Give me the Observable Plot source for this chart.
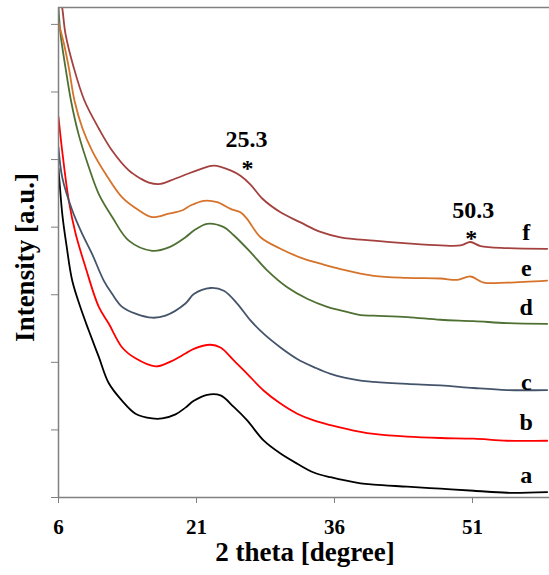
<!DOCTYPE html>
<html>
<head>
<meta charset="utf-8">
<script src="https://cdn.jsdelivr.net/npm/d3@7"></script>
<script src="https://cdn.jsdelivr.net/npm/@observablehq/plot@0.6"></script>
<style>
  html, body { margin: 0; padding: 0; background: #fff; }
  #chart { width: 549px; height: 575px; }
  #chart svg, #chart svg text { font-family: "Liberation Serif", "Times New Roman", serif !important; font-weight: bold; }
</style>
</head>
<body>
<div id="chart"></div>
<script>
// 2 theta [degree], intensity [a.u.]
const seriesNames = ["a", "b", "c", "d", "e", "f"];
const seriesColors = ["#000000", "#ff0000", "#44546a", "#4f7033", "#d6732a", "#a3413f"];

const curveA = [[6.00,4.87],[6.43,4.17],[6.87,3.73],[7.49,3.21],[8.39,2.81],[9.29,2.47],[10.38,2.08],[11.47,1.69],[12.92,1.43],[14.37,1.24],[16.18,1.17],[17.27,1.17],[18.72,1.23],[19.80,1.33],[20.71,1.43],[22.16,1.52],[23.61,1.51],[25.05,1.34],[26.51,1.14],[28.32,0.84],[30.13,0.65],[31.95,0.50],[33.75,0.37],[35.57,0.30],[38.83,0.21],[40.27,0.19],[43.90,0.16],[47.52,0.13],[51.14,0.10],[54.77,0.07],[59.12,0.08]];
const curveB = [[6.00,5.63],[6.40,5.13],[7.12,4.39],[7.85,3.91],[8.93,3.41],[10.38,2.82],[11.47,2.57],[12.92,2.22],[14.37,2.06],[16.54,1.94],[17.99,2.00],[19.80,2.13],[20.71,2.20],[22.52,2.26],[23.61,2.22],[25.05,2.03],[26.51,1.83],[28.32,1.58],[30.13,1.39],[31.95,1.24],[33.75,1.14],[35.57,1.07],[38.83,0.97],[40.27,0.94],[43.90,0.90],[47.52,0.88],[51.14,0.87],[54.77,0.84],[59.12,0.84]];
const curveC = [[6.00,5.18],[6.40,4.74],[7.49,4.25],[8.58,3.90],[9.66,3.60],[10.92,3.21],[11.84,3.01],[12.92,2.82],[14.37,2.72],[16.18,2.66],[17.63,2.69],[19.80,2.87],[20.71,3.01],[22.52,3.10],[23.97,3.06],[25.42,2.87],[26.87,2.62],[28.32,2.42],[30.13,2.22],[31.95,2.05],[33.75,1.93],[35.57,1.83],[38.83,1.73],[40.27,1.71],[43.90,1.68],[47.52,1.66],[51.14,1.62],[54.77,1.59],[59.12,1.59]];
const curveD = [[6.00,7.25],[6.22,6.86],[6.76,6.36],[7.36,5.87],[8.17,5.38],[9.29,4.89],[10.38,4.49],[11.84,4.15],[13.64,3.80],[16.18,3.65],[17.99,3.70],[19.80,3.85],[20.71,3.95],[22.16,4.05],[23.97,4.00],[25.05,3.88],[26.87,3.63],[28.68,3.36],[30.86,3.11],[33.03,2.94],[35.21,2.82],[36.65,2.77],[38.83,2.70],[40.27,2.69],[43.90,2.67],[47.52,2.63],[51.14,2.61],[54.77,2.58],[59.12,2.57]];
const curveE = [[6.00,7.03],[6.58,6.72],[7.12,6.36],[7.74,5.87],[8.61,5.46],[9.66,5.13],[11.11,4.79],[12.92,4.44],[14.73,4.25],[16.18,4.15],[17.99,4.20],[19.48,4.25],[20.35,4.32],[21.79,4.39],[23.25,4.37],[24.70,4.27],[25.78,4.22],[26.51,4.12],[27.96,3.85],[30.13,3.68],[32.30,3.55],[34.48,3.46],[36.65,3.38],[40.27,3.28],[43.90,3.25],[47.52,3.24],[49.34,3.22],[50.78,3.27],[52.23,3.18],[54.77,3.18],[59.12,3.21]];
const curveF = [[6.00,7.53],[6.40,7.25],[6.76,6.86],[7.66,6.36],[8.83,5.87],[10.38,5.46],[11.84,5.13],[13.64,4.84],[14.91,4.72],[15.82,4.66],[17.09,4.64],[18.72,4.72],[21.43,4.86],[22.88,4.91],[24.70,4.84],[25.78,4.76],[26.87,4.63],[28.17,4.42],[30.13,4.22],[32.30,4.07],[34.48,3.93],[36.65,3.85],[40.27,3.80],[43.90,3.76],[47.52,3.73],[49.70,3.73],[50.78,3.78],[51.87,3.72],[54.77,3.69],[59.12,3.68]];
const curves = [curveA, curveB, curveC, curveD, curveE, curveF];

// series label anchors (2 theta, intensity)
const labelX = [56.84, 56.84, 56.84, 56.84, 56.84, 56.84];
const labelY = [0.33, 1.11, 1.70, 2.81, 3.39, 3.92];

// peak annotations
const peakText = ["25.3", "50.3"];
const peakTextX = [26.43, 51.08];
const peakTextY = [5.30, 4.25];
const starX = [26.54, 50.86];
const starY = [4.94, 3.91];

const xTicks = [6, 21, 36, 51];
const yTicks = [0, 1, 2, 3, 4, 5, 6, 7];
const xDomain = [6, 59.37];
const yDomain = [0, 7.25];

const rows = curves.flatMap((c, i) => c.map(([x, y]) => ({series: seriesNames[i], x, y})));
const labels = seriesNames.map((s, i) => ({s, x: labelX[i], y: labelY[i]}));
const peaks = peakText.map((t, i) => ({t, x: peakTextX[i], y: peakTextY[i], sx: starX[i], sy: starY[i]}));

const font = "Liberation Serif";
const axisColor = "#808080";
const txt = {fontFamily: font, fontWeight: "bold", fill: "#000"};

const chart = Plot.plot({
  width: 549,
  height: 575,
  marginLeft: 58,
  marginRight: 0,
  marginTop: 7,
  marginBottom: 78,
  style: {fontFamily: font, color: "#000", background: "#fff", overflow: "visible"},
  x: {domain: xDomain},
  y: {domain: yDomain},
  color: {domain: seriesNames, range: seriesColors},
  marks: [
    Plot.line(rows, {x: "x", y: "y", z: "series", stroke: "series", strokeWidth: 1.8, curve: "catmull-rom", clip: true}),
    Plot.ruleX([xDomain[0]], {stroke: axisColor, strokeWidth: 1.5}),
    Plot.ruleY([yDomain[0]], {stroke: axisColor, strokeWidth: 1.5}),
    Plot.ruleY([yDomain[1]], {stroke: axisColor, strokeWidth: 1.5}),
    Plot.axisX({ticks: xTicks, tickSize: 6, tickPadding: 16, fontSize: 21, ...txt, stroke: axisColor, label: null}),
    Plot.axisY({ticks: yTicks, tickSize: 7, tickFormat: () => "", stroke: axisColor, label: null}),
    Plot.text(["2 theta [degree]"], {frameAnchor: "bottom", lineAnchor: "middle", textAnchor: "middle", dx: 1, dy: 55, fontSize: 27, ...txt}),
    Plot.text(["Intensity [a.u.]"], {frameAnchor: "left", lineAnchor: "middle", textAnchor: "middle", rotate: -90, dx: -33, dy: 5, fontSize: 27, ...txt}),
    Plot.text(labels, {x: "x", y: "y", text: "s", fontSize: 24, ...txt}),
    Plot.text(peaks, {x: "x", y: "y", text: "t", fontSize: 24, ...txt}),
    Plot.text(peaks, {x: "sx", y: "sy", text: () => "*", fontSize: 24, dy: 5, ...txt})
  ]
});
document.getElementById("chart").appendChild(chart);
</script>
</body>
</html>
